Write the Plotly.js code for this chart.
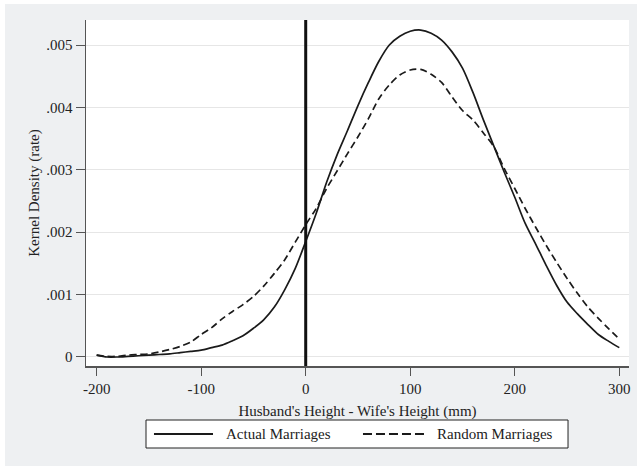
<!DOCTYPE html>
<html>
<head>
<meta charset="utf-8">
<script src="https://cdn.plot.ly/plotly-3.0.1.min.js"></script>
<style>
  html, body { margin: 0; padding: 0; background: #ffffff; width: 638px; height: 467px; overflow: hidden; }
  #chart { position: absolute; left: 5px; top: 4px; width: 632px; height: 462px; }
</style>
</head>
<body>
<div id="chart"></div>
<script>
// Height difference, husband minus wife (mm)
const heightDiff = [-200,-190,-180,-170,-160,-150,-140,-130,-120,-110,-100,-90,-80,-70,-60,-50,-40,-30,-20,-10,
  0,10,20,30,40,50,60,70,80,90,100,110,120,130,140,150,160,170,180,190,200,210,220,230,240,250,260,270,280,290,300];
// Kernel density (x 0.001)
const actualDensity = [0.03,0.00,0.00,0.01,0.02,0.03,0.04,0.05,0.07,0.09,0.11,0.15,0.19,0.26,0.34,0.46,0.60,0.80,1.08,1.42,
  1.85,2.30,2.80,3.24,3.63,4.03,4.40,4.74,5.00,5.14,5.22,5.24,5.19,5.08,4.89,4.63,4.24,3.80,3.38,2.96,2.56,2.14,1.81,1.47,1.15,0.88,0.69,0.52,0.36,0.25,0.15];
const randomDensity = [0.03,0.01,0.01,0.03,0.04,0.05,0.08,0.12,0.17,0.24,0.36,0.47,0.61,0.73,0.84,0.97,1.14,1.34,1.56,1.84,
  2.12,2.38,2.70,2.98,3.26,3.53,3.82,4.14,4.36,4.52,4.60,4.61,4.53,4.40,4.17,3.95,3.80,3.59,3.37,3.02,2.70,2.38,2.08,1.79,1.52,1.26,1.02,0.80,0.62,0.45,0.29];
const seriesNames = ["Actual Marriages", "Random Marriages"];
const xTickVals = [-200,-100,0,100,200,300];
const xTickText = ["-200","-100","0","100","200","300"];
const yTickVals = [0,0.001,0.002,0.003,0.004,0.005];
const yTickText = ["0",".001",".002",".003",".004",".005"];
const refLineX = 0;
const xTitle = "Husband's Height - Wife's Height (mm)";
const yTitle = "Kernel Density (rate)";

const scale = v => v / 1000;
const FONT = "Liberation Serif, Times New Roman, serif";

const traces = [
  { x: heightDiff, y: actualDensity.map(scale), name: seriesNames[0], type: "scatter", mode: "lines",
    line: { color: "#1a1a1a", width: 1.7, shape: "spline", smoothing: 0.8 } },
  { x: heightDiff, y: randomDensity.map(scale), name: seriesNames[1], type: "scatter", mode: "lines",
    line: { color: "#1a1a1a", width: 1.7, dash: "7px,4px", shape: "spline", smoothing: 0.8 } }
];

const lgY = -0.1965;
const layout = {
  width: 632, height: 462,
  margin: { l: 81, r: 8, t: 16, b: 100 },
  paper_bgcolor: "#eef0f2",
  plot_bgcolor: "#ffffff",
  showlegend: false,
  font: { family: FONT, size: 15, color: "#222" },
  xaxis: {
    range: [-210.2, 309.3], tickvals: xTickVals, ticktext: xTickText, ticks: "outside", ticklen: 8, tickcolor: "#555", tickwidth: 1,
    showline: true, linecolor: "#555", linewidth: 1.5, showgrid: false, zeroline: false,
    tickfont: { family: FONT, size: 15, color: "#222" },
    title: { text: xTitle, font: { family: FONT, size: 15, color: "#222" }, standoff: 10 }
  },
  yaxis: {
    range: [-0.0001445, 0.005401], tickvals: yTickVals, ticktext: yTickText, ticks: "outside", ticklen: 9,
    tickcolor: "#555", tickwidth: 1, showline: true, linecolor: "#555", linewidth: 1.5,
    showgrid: true, gridcolor: "#e6e6e6", gridwidth: 1, zeroline: false,
    tickfont: { family: FONT, size: 15, color: "#222" },
    title: { text: yTitle, font: { family: FONT, size: 15, color: "#222" }, standoff: 3 }
  },
  shapes: [
    { type: "line", xref: "x", yref: "paper", x0: refLineX, x1: refLineX, y0: 0, y1: 1,
      line: { color: "#111", width: 3 } },
    { type: "rect", xref: "paper", yref: "paper", x0: 0.1105, x1: 0.8877, y0: -0.2370, y1: -0.1561,
      fillcolor: "#ffffff", line: { color: "#222", width: 1 } },
    { type: "line", xref: "paper", yref: "paper", x0: 0.1252, x1: 0.2339, y0: lgY, y1: lgY,
      line: { color: "#1a1a1a", width: 2 } },
    { type: "line", xref: "paper", yref: "paper", x0: 0.5101, x1: 0.6243, y0: lgY, y1: lgY,
      line: { color: "#1a1a1a", width: 2, dash: "9px,4px" } }
  ],
  annotations: [
    { xref: "paper", yref: "paper", x: 0.2541, y: lgY, xanchor: "left", yanchor: "middle", showarrow: false,
      text: seriesNames[0], font: { family: FONT, size: 15, color: "#222" } },
    { xref: "paper", yref: "paper", x: 0.6427, y: lgY, xanchor: "left", yanchor: "middle", showarrow: false,
      text: seriesNames[1], font: { family: FONT, size: 15, color: "#222" } }
  ]
};

Plotly.newPlot("chart", traces, layout, { staticPlot: true, displayModeBar: false });
</script>
</body>
</html>
